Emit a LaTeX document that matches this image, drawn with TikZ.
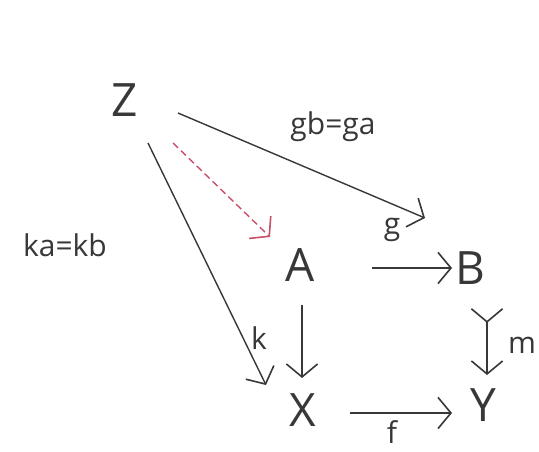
\documentclass[tikz,border=0pt]{standalone}
\usepackage{fontspec}
\setmainfont{Open Sans}
\usetikzlibrary{arrows.meta}
\definecolor{ink}{HTML}{383838}
\definecolor{redink}{HTML}{C8506A}
\tikzset{
  obj/.style={inner sep=0pt, text=ink, font=\fontsize{46}{46}\selectfont},
  lbl/.style={inner sep=0pt, text=ink, font=\fontsize{30}{30}\selectfont},
  arr/.style={draw=ink, line width=1.4pt, -{Straight Barb[length=10pt,width=24pt,line width=1.6pt,scale=1.3]}},
  monoarr/.style={draw=ink, line width=1.4pt, {Straight Barb[reversed,length=10pt,width=24pt,line width=1.6pt,scale=1.3]}-{Straight Barb[length=10pt,width=24pt,line width=1.6pt,scale=1.3]}},
  dasharr/.style={draw=redink, line width=1.4pt, dash pattern=on 7pt off 4pt, -{Straight Barb[length=10pt,width=24pt,line width=1.6pt,scale=1.3]}}
}
\begin{document}
\begin{tikzpicture}[x=1pt,y=-1pt]
\useasboundingbox[fill=white] (0,0) rectangle (539,452);
\node[obj] (Z) at (125,100) {Z};
\node[obj] (A) at (300,265) {A};
\node[obj] (B) at (470,268) {B};
\node[obj] (X) at (303,410) {X};
\node[obj] (Y) at (483,405) {Y};
\node[lbl] (gbga) at (333,127) {gb=ga};
\node[lbl] (kakb) at (65,245) {ka=kb};
\node[lbl] (g) at (392,230) {g};
\node[lbl] (k) at (259,338) {k};
\node[lbl] (m) at (522,345) {m};
\node[lbl] (f) at (392,432) {f};
\draw[arr] ([shift={(53,13)}]Z.center) -- ([shift={(-45,-50)}]B.center);
\draw[dasharr] ([shift={(48,43)}]Z.center) -- ([shift={(-30,-28)}]A.center);
\draw[arr] ([shift={(23,43)}]Z.center) -- ([shift={(-37,-25)}]X.center);
\draw[arr] ([shift={(72,3)}]A.center) -- ([shift={(-18,0)}]B.center);
\draw[arr] ([shift={(2,40)}]A.center) -- ([shift={(-1,-32)}]X.center);
\draw[monoarr] ([shift={(17,40)}]B.center) -- ([shift={(4,-30)}]Y.center);
\draw[arr] ([shift={(47,3)}]X.center) -- ([shift={(-31,8)}]Y.center);
\end{tikzpicture}
\end{document}
